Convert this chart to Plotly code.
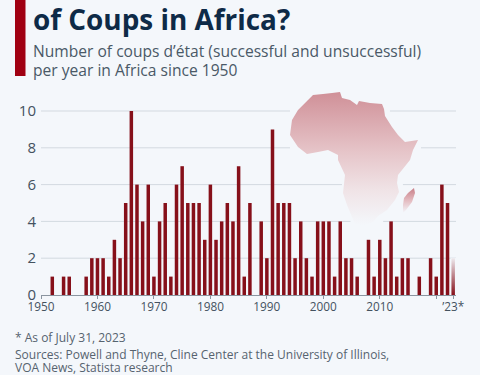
import base64
import plotly.graph_objects as go

# ---- data ----
years = list(range(1950, 2024))
coups = [0, 0, 1, 0, 1, 1, 0, 0, 1, 2,
         2, 2, 1, 3, 2, 5, 10, 6, 4, 6,
         1, 4, 5, 1, 6, 7, 5, 5, 5, 3,
         6, 3, 4, 5, 4, 7, 1, 5, 0, 4,
         2, 9, 5, 5, 5, 2, 4, 2, 1, 4,
         4, 4, 1, 4, 2, 2, 1, 0, 3, 1,
         3, 2, 4, 1, 2, 2, 0, 1, 0, 2,
         1, 6, 5, 2]
x_tick_vals = [1950, 1960, 1970, 1980, 1990, 2000, 2010, 2020, 2023]
x_tick_text = ["1950", "1960", "1970", "1980", "1990", "2000", "2010", "", "’23*"]
y_tick_vals = [0, 2, 4, 6, 8, 10]

# gridline stretches left open around the map (level, from year, to year)
grid_segments = [
    (2, 1950, 2023.5),
    (4, 1950, 2004.8), (4, 2010.6, 2023.5),
    (6, 1950, 2003.3), (6, 2014.1, 2023.5),
    (8, 1950, 1994.1), (8, 2017.3, 2023.5),
    (10, 1950, 1994.1), (10, 2011.8, 2023.5),
]

title = "of Coups in Africa?"
subtitle = ["Number of coups d’état (successful and unsuccessful)", "per year in Africa since 1950"]
footer = ["* As of July 31, 2023",
          "Sources: Powell and Thyne, Cline Center at the University of Illinois,",
          "VOA News, Statista research"]

# ---- style ----
BG = "#f4f7fb"
BAR = "#86101a"
W, H = 480, 375
ML, MR, MT, MB = 41, 24, 100, 80
PW, PH = W - ML - MR, H - MT - MB


def px(x):
    return (x - ML) / PW


def py(y):
    return (H - MB - y) / PH


# Decorative map silhouette, as an SVG picture (pixel outline of the page region)
africa = [(308, 100), (313, 95), (323, 94), (332, 93), (340, 92), (342, 98), (350, 100), (357, 105),
          (359, 101), (370, 103), (382, 104), (384, 109), (385, 116), (392, 127), (398, 135),
          (405, 142), (418, 140), (413, 150), (410, 160), (398, 175), (397, 183), (399, 192),
          (395, 200), (387, 210), (378, 216), (373, 222), (363, 226), (355, 224), (352, 217),
          (347, 205), (343, 193), (345, 175), (338, 160), (338, 155), (328, 150), (318, 152),
          (307, 154), (298, 147), (290, 135), (292, 120), (298, 110)]
madagascar = [(414, 188), (415, 193), (412, 202), (406, 210), (403, 213), (403, 205), (404, 198), (408, 193)]


def pts(p):
    return " ".join(f"{a - 285},{b - 85}" for a, b in p)


svg = (
    '<svg xmlns="http://www.w3.org/2000/svg" width="145" height="145" viewBox="0 0 145 145">'
    '<defs><linearGradient id="g" gradientUnits="userSpaceOnUse" x1="0" y1="5" x2="0" y2="140">'
    '<stop offset="0" stop-color="#cf8e96"/><stop offset="0.46" stop-color="#e6c5c9"/>'
    '<stop offset="0.75" stop-color="#f0e4e7"/>'
    f'<stop offset="1" stop-color="{BG}"/></linearGradient>'
    '<linearGradient id="m" gradientUnits="userSpaceOnUse" x1="0" y1="102" x2="0" y2="128">'
    '<stop offset="0" stop-color="#c67a84"/><stop offset="0.5" stop-color="#e3b9be"/>'
    f'<stop offset="1" stop-color="{BG}"/></linearGradient></defs>'
    f'<polygon points="{pts(africa)}" fill="url(#g)" stroke-linejoin="round"/>'
    f'<polygon points="{pts(madagascar)}" fill="url(#m)"/></svg>'
)
fade = (
    '<svg xmlns="http://www.w3.org/2000/svg" width="6" height="37" viewBox="0 0 6 37" preserveAspectRatio="none">'
    '<defs><linearGradient id="f" x1="0" y1="0" x2="0" y2="1">'
    f'<stop offset="0" stop-color="{BG}" stop-opacity="0.95"/>'
    f'<stop offset="1" stop-color="{BG}" stop-opacity="0"/></linearGradient></defs>'
    '<rect width="6" height="37" fill="url(#f)"/></svg>'
)


def uri(s):
    return "data:image/svg+xml;base64," + base64.b64encode(s.encode()).decode()


fig = go.Figure(go.Bar(x=years, y=coups, width=0.62, marker=dict(color=BAR, line_width=0),
                       hoverinfo="x+y", showlegend=False))

shapes = [dict(type="line", layer="below", xref="x", yref="y", x0=a, x1=b, y0=lvl, y1=lvl,
               line=dict(color="#d3d9e0", width=1)) for lvl, a, b in grid_segments]
shapes.append(dict(type="rect", xref="paper", yref="paper", x0=px(15), x1=px(25.5), y0=py(76), y1=py(-5),
                   fillcolor="#a00012", line_width=0))

images = [
    dict(source=uri(svg), xref="paper", yref="paper", x=px(285), y=py(85), sizex=145 / PW, sizey=145 / PH,
         xanchor="left", yanchor="top", sizing="stretch", layer="below"),
    dict(source=uri(fade), xref="x", yref="y", x=2023, y=2.02, sizex=1, sizey=2.02,
         xanchor="center", yanchor="top", sizing="stretch", layer="above"),
]


def text(s, x, y, size, color, weight=400):
    return dict(text=s, xref="paper", yref="paper", x=px(x), y=py(y), xanchor="left", yanchor="middle",
                showarrow=False, align="left",
                font=dict(family="Open Sans", size=size, color=color, weight=weight))


anns = [text(title, 31, 19, 27.9, "#0e2a47", 700),
        text(subtitle[0], 31, 50.5, 15.6, "#4a5967"),
        text(subtitle[1], 31, 70, 15.6, "#4a5967"),
        text(footer[0], 13, 337, 12, "#56636f"),
        text(footer[1], 13, 354, 12, "#56636f"),
        text(footer[2], 13, 367.5, 12, "#56636f")]

fig.update_layout(
    width=W, height=H, margin=dict(l=ML, r=MR, t=MT, b=MB), autosize=False,
    paper_bgcolor=BG, plot_bgcolor="rgba(0,0,0,0)", bargap=0.38,
    font=dict(family="Open Sans", color="#3c4a57"),
    shapes=shapes, images=images, annotations=anns,
    xaxis=dict(range=[1950, 2023.5], tickmode="array", tickvals=x_tick_vals, ticktext=x_tick_text,
               ticks="outside", ticklen=3, tickcolor="#8b95a0", tickwidth=1, showgrid=False,
               showline=True, linecolor="#8b95a0", linewidth=1, zeroline=False, ticklabelstandoff=-2,
               tickfont=dict(size=11.8, color="#44525f")),
    yaxis=dict(range=[0, PH / 18.4], tickmode="array", tickvals=y_tick_vals, showgrid=False,
               zeroline=False, showline=False, ticks="", ticklabelstandoff=4,
               tickfont=dict(size=15, color="#44525f")),
)
fig.write_html("out.html", config={"displayModeBar": False}, post_script=(
    "document.documentElement.style.overflow='hidden';"
    "document.body.style.margin='0';"
    f"document.body.style.background='{BG}';"
))
